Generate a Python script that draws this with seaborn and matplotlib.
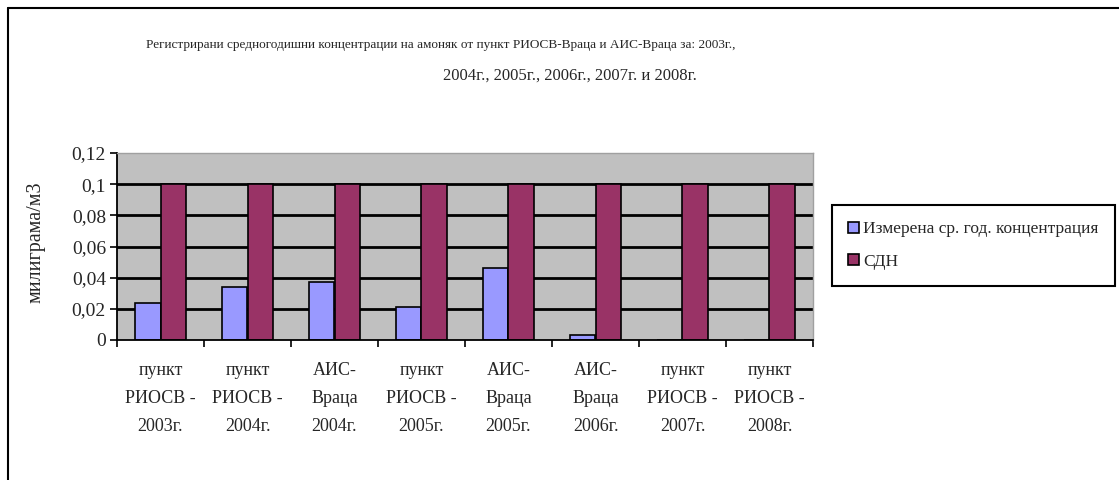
import numpy as np
import pandas as pd
import seaborn as sns
import matplotlib.pyplot as plt
from matplotlib.lines import Line2D
from matplotlib.ticker import FuncFormatter

# categories (x axis) and the two series
categories = [
    "пункт\nРИОСВ -\n2003г.",
    "пункт\nРИОСВ -\n2004г.",
    "АИС-\nВраца\n2004г.",
    "пункт\nРИОСВ -\n2005г.",
    "АИС-\nВраца\n2005г.",
    "АИС-\nВраца\n2006г.",
    "пункт\nРИОСВ -\n2007г.",
    "пункт\nРИОСВ -\n2008г.",
]
measured = [0.024, 0.034, 0.037, 0.021, 0.046, 0.003, 0.0, 0.0]
sdn = [0.1, 0.1, 0.1, 0.1, 0.1, 0.1, 0.1, 0.1]
series_names = ["Измерена ср. год. концентрация", "СДН"]
y_ticks = [0, 0.02, 0.04, 0.06, 0.08, 0.1, 0.12]

df = pd.DataFrame({
    "cat": categories * 2,
    "series": [series_names[0]] * len(categories) + [series_names[1]] * len(categories),
    "val": measured + sdn,
})

sns.set_style("white")
plt.rcParams["font.family"] = ["Liberation Serif", "DejaVu Serif"]

fig = plt.figure(figsize=(11.19, 4.80), dpi=100)
ax = fig.add_axes([117 / 1119, 1 - 340 / 480, 696 / 1119, 187 / 480])
ax.set_facecolor("#C0C0C0")

sns.barplot(data=df, x="cat", y="val", hue="series", hue_order=series_names,
            palette=["#9999FF", "#993366"], edgecolor="black", linewidth=1.2,
            width=0.59, ax=ax, saturation=1)

ax.set_ylim(0, 0.12)
ax.set_xlim(-0.5, len(categories) - 0.5)
ax.set_yticks(y_ticks)
ax.yaxis.set_major_formatter(FuncFormatter(lambda v, p: ("%g" % v).replace(".", ",")))
for t in y_ticks[1:-1]:
    ax.axhline(t, color="black", lw=2, zorder=0.5)

ax.tick_params(axis="y", direction="out", length=5, width=1.2, color="black",
               labelsize=14, left=True, pad=3)
ax.tick_params(axis="x", which="major", length=0, labelsize=13, pad=16)
ax.set_xticks(np.arange(-0.5, len(categories), 1), minor=True)
ax.tick_params(axis="x", which="minor", direction="out", length=5, width=1.2,
               color="black", bottom=True)
for lab in ax.get_xticklabels():
    lab.set_linespacing(1.85)

for s in ["left", "bottom"]:
    ax.spines[s].set_color("black")
    ax.spines[s].set_linewidth(1.3)
for s in ["top", "right"]:
    ax.spines[s].set_color("#A0A0A0")
    ax.spines[s].set_linewidth(1.0)

ax.set_xlabel("")
ax.set_ylabel("милиграма/м3", fontsize=14.5)
ax.yaxis.set_label_coords(-0.103, 0.524)

handles, labels = ax.get_legend_handles_labels()
ax.legend(handles, labels, loc="upper left",
          bbox_to_anchor=(832 / 1119, 1 - 205 / 480), bbox_transform=fig.transFigure,
          fontsize=12.5, frameon=True, fancybox=False, framealpha=1,
          edgecolor="black", handlelength=0.6, handleheight=0.6,
          handletextpad=0.25, labelspacing=0.95, borderpad=0.95, borderaxespad=0)
ax.get_legend().get_frame().set_linewidth(1.5)

fig.text(441 / 1119, 1 - 45 / 480,
         "Регистрирани средногодишни концентрации на амоняк от пункт РИОСВ-Враца и АИС-Враца за: 2003г.,",
         ha="center", va="center", fontsize=9.5)
fig.text(570 / 1119, 1 - 76 / 480, "2004г., 2005г., 2006г., 2007г. и 2008г.",
         ha="center", va="center", fontsize=12)

# outer frame (top and left edges)
fig.add_artist(Line2D([8 / 1119, 1], [1 - 8 / 480, 1 - 8 / 480], color="black", lw=1.5,
                      transform=fig.transFigure))
fig.add_artist(Line2D([8 / 1119, 8 / 1119], [0, 1 - 8 / 480], color="black", lw=1.5,
                      transform=fig.transFigure))

fig.savefig("out.png", dpi=100, facecolor="white")
